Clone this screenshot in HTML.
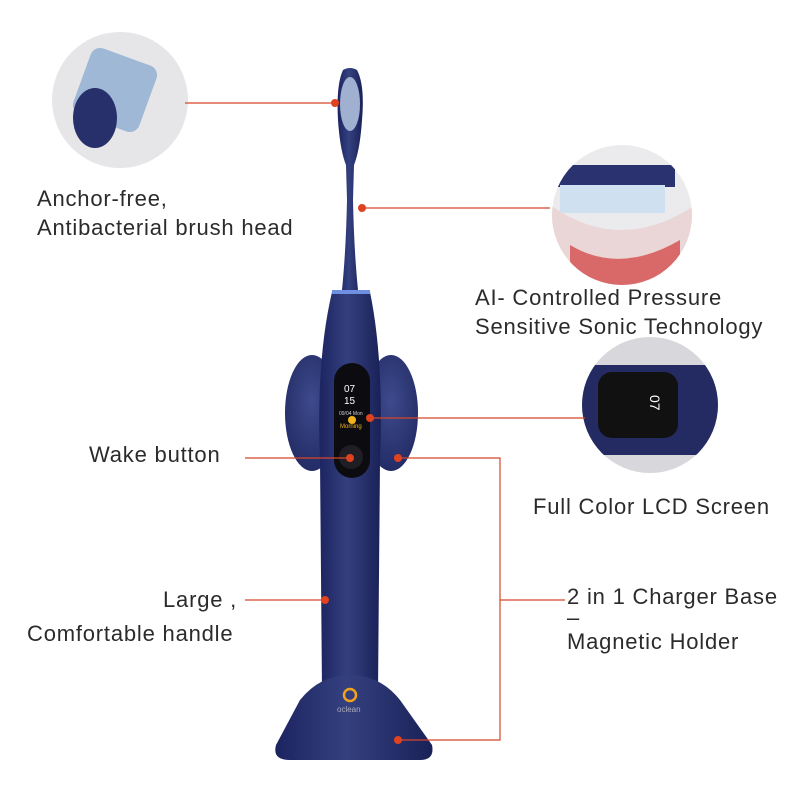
<!DOCTYPE html>
<html><head><style>
body{margin:0;width:800px;height:800px;background:#fff;overflow:hidden;position:relative;font-family:"Liberation Sans",sans-serif;color:#2b2b2b}
.t{position:absolute;font-size:22px;white-space:nowrap;letter-spacing:0.8px}
</style></head><body>
<svg width="800" height="800" style="position:absolute;left:0;top:0">
<defs>
<linearGradient id="b" x1="0" x2="1"><stop offset="0" stop-color="#1c2460"/><stop offset="0.45" stop-color="#34407f"/><stop offset="1" stop-color="#1a2158"/></linearGradient>
<radialGradient id="p" cx="0.5" cy="0.4" r="0.6"><stop offset="0" stop-color="#3d4a8c"/><stop offset="1" stop-color="#232c66"/></radialGradient>
<clipPath id="c1"><circle cx="120" cy="100" r="68"/></clipPath>
<clipPath id="c2"><circle cx="622" cy="215" r="70"/></clipPath>
<clipPath id="c3"><circle cx="650" cy="405" r="68"/></clipPath>
</defs>
<circle cx="120" cy="100" r="68" fill="#e6e6e8"/>
<g clip-path="url(#c1)">
<rect x="80" y="55" width="70" height="70" rx="10" fill="#9fb8d6" transform="rotate(20 115 90)"/>
<ellipse cx="95" cy="118" rx="22" ry="30" fill="#27306a"/>
</g>
<circle cx="622" cy="215" r="70" fill="#ebebed"/>
<g clip-path="url(#c2)">
<rect x="550" y="165" width="125" height="22" fill="#2a3370"/>
<rect x="560" y="185" width="105" height="28" fill="#cfe0f0"/>
<path d="M550 205 Q620 255 695 205 L695 290 L550 290Z" fill="#ead6d6"/>
<path d="M570 245 Q620 275 680 240 L680 290 L570 290Z" fill="#d23a3a" opacity="0.7"/>
</g>
<circle cx="650" cy="405" r="68" fill="#d8d8dc"/>
<g clip-path="url(#c3)">
<rect x="580" y="365" width="140" height="90" rx="8" fill="#232b62"/>
<rect x="598" y="372" width="80" height="66" rx="14" fill="#111"/>
<text x="650" y="395" fill="#fff" font-size="14" font-family="Liberation Sans" transform="rotate(90 650 395)">07</text>
</g>
<path d="M343 70 Q350 66 357 70 Q365 85 362 120 Q360 150 354 165 L353 200 Q354 250 358 290 L342 290 Q346 250 347 200 L346 165 Q340 150 338 120 Q336 85 343 70Z" fill="url(#b)"/>
<ellipse cx="350" cy="104" rx="10" ry="27" fill="#9fb0d0"/>
<ellipse cx="312" cy="413" rx="27" ry="58" fill="url(#p)"/>
<ellipse cx="391" cy="413" rx="27" ry="58" fill="url(#p)"/>
<path d="M332 292 L370 292 Q384 360 380 460 L378 690 L322 690 L320 460 Q316 360 332 292Z" fill="url(#b)"/>
<rect x="332" y="290" width="38" height="4" fill="#6f8fe0"/>
<path d="M300 700 Q320 675 350 675 Q380 675 400 700 L432 745 Q435 760 420 760 L290 760 Q272 760 276 745Z" fill="url(#b)"/>
<rect x="334" y="363" width="36" height="115" rx="18" fill="#0c0c10"/>
<text x="344" y="392" fill="#fff" font-size="10" font-family="Liberation Sans">07</text>
<text x="344" y="404" fill="#fff" font-size="10" font-family="Liberation Sans">15</text>
<text x="339" y="415" fill="#ccc" font-size="5" font-family="Liberation Sans">09/04 Mon</text>
<circle cx="352" cy="420" r="4" fill="#f2b21c"/>
<text x="340" y="428" fill="#f2b21c" font-size="6" font-family="Liberation Sans">Morning</text>
<circle cx="351" cy="457" r="12" fill="#1e1e24"/>
<circle cx="350" cy="695" r="6" fill="none" stroke="#f2a21c" stroke-width="2.5"/>
<text x="337" y="712" fill="#aab" font-size="8" font-family="Liberation Sans">oclean</text>
<g stroke="#d8452a" stroke-width="1.2" fill="none">
<line x1="185" y1="103" x2="335" y2="103"/>
<line x1="362" y1="208" x2="550" y2="208"/>
<line x1="370" y1="418" x2="585" y2="418"/>
<line x1="245" y1="458" x2="350" y2="458"/>
<polyline points="398,458 500,458 500,740 398,740"/>
<line x1="500" y1="600" x2="565" y2="600"/>
<line x1="245" y1="600" x2="325" y2="600"/>
</g>
<g fill="#e0421f">
<circle cx="335" cy="103" r="4"/><circle cx="362" cy="208" r="4"/><circle cx="370" cy="418" r="4"/>
<circle cx="350" cy="458" r="4"/><circle cx="398" cy="458" r="4"/><circle cx="398" cy="740" r="4"/><circle cx="325" cy="600" r="4"/>
</g>
</svg>
<div class="t" style="left:37px;top:186px">Anchor-free,</div>
<div class="t" style="left:37px;top:215px">Antibacterial brush head</div>
<div class="t" style="left:475px;top:285px">AI- Controlled Pressure</div>
<div class="t" style="left:475px;top:314px">Sensitive Sonic Technology</div>
<div class="t" style="left:89px;top:442px">Wake button</div>
<div class="t" style="left:533px;top:494px">Full Color LCD Screen</div>
<div class="t" style="left:163px;top:587px">Large ,</div>
<div class="t" style="left:27px;top:621px">Comfortable handle</div>
<div class="t" style="left:567px;top:584px">2 in 1 Charger Base</div>
<div class="t" style="left:567px;top:605px">–</div>
<div class="t" style="left:567px;top:629px">Magnetic Holder</div>
</body></html>
